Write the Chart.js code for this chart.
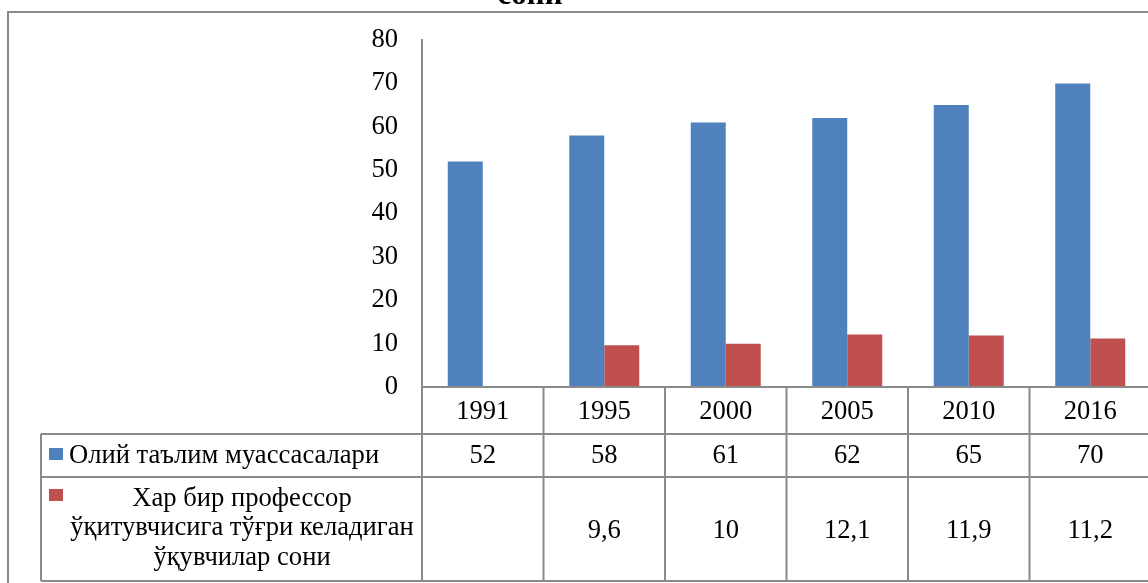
<!DOCTYPE html>
<html>
<head>
<meta charset="utf-8">
<script src="https://cdn.jsdelivr.net/npm/chart.js@4.4.1/dist/chart.umd.min.js"></script>
<style>
  html, body { margin: 0; padding: 0; background: #fff; overflow: hidden; }
  #wrap { position: absolute; left: 0; top: 0; width: 1160px; height: 583px; }
</style>
</head>
<body>
<div id="wrap"><canvas id="chart" width="1160" height="583"></canvas></div>
<script>
// ---- chart data ----
const years = ["1991", "1995", "2000", "2005", "2010", "2016"];
const institutions = [52, 58, 61, 62, 65, 70];
const studentsPerTeacher = [null, 9.6, 10, 12.1, 11.9, 11.2];
const yTicks = [0, 10, 20, 30, 40, 50, 60, 70, 80];

const seriesNames = [
  ["Олий таълим муассасалари"],
  ["Хар бир профессор", "ўқитувчисига тўғри келадиган", "ўқувчилар сони"],
];
const titleText = "сони";

const BLUE = "#4F81BD";
const RED = "#C0504D";
const LINE = "#8a8a8a";
const FONT = "Liberation Serif";
const FS = 26.6;

const fmt = (v) => (v == null ? "" : String(v).replace(".", ","));

// frame + title + data table drawn under/over the chart
const tablePlugin = {
  id: "dataTable",
  beforeDraw(chart) {
    const ctx = chart.ctx;
    ctx.save();
    ctx.strokeStyle = LINE;
    ctx.lineWidth = 2;
    ctx.beginPath();
    ctx.moveTo(8, 600); ctx.lineTo(8, 12); ctx.lineTo(1200, 12);
    ctx.stroke();

    ctx.fillStyle = "#000";
    ctx.font = "bold 31px " + FONT;
    ctx.textAlign = "center";
    ctx.textBaseline = "alphabetic";
    ctx.fillText(titleText, 530, 4);
    ctx.restore();
  },
  afterDraw(chart) {
    const ctx = chart.ctx;
    const area = chart.chartArea;
    const xs = chart.scales.x;
    const n = years.length;
    const cw = (area.right - area.left) / n;
    const legendLeft = 41;
    const rows = [area.bottom, 434, 477, 581];

    ctx.save();
    ctx.strokeStyle = LINE;
    ctx.lineWidth = 2;
    ctx.beginPath();
    // horizontal lines
    ctx.moveTo(area.left, rows[0]); ctx.lineTo(area.right + 20, rows[0]);
    for (let r = 1; r < rows.length; r++) {
      ctx.moveTo(legendLeft, rows[r]); ctx.lineTo(area.right + 20, rows[r]);
    }
    // vertical lines
    ctx.moveTo(legendLeft, rows[1]); ctx.lineTo(legendLeft, rows[3]);
    for (let i = 0; i <= n; i++) {
      const x = area.left + i * cw;
      ctx.moveTo(x, rows[0]); ctx.lineTo(x, rows[3]);
    }
    ctx.stroke();

    ctx.fillStyle = "#000";
    ctx.font = FS + "px " + FONT;
    ctx.textAlign = "center";
    ctx.textBaseline = "middle";
    years.forEach((y, i) => {
      const cx = xs.getPixelForValue(i);
      ctx.fillText(y, cx, (rows[0] + rows[1]) / 2 + 2);
      ctx.fillText(fmt(institutions[i]), cx, (rows[1] + rows[2]) / 2 + 1);
      ctx.fillText(fmt(studentsPerTeacher[i]), cx, 531);
    });

    // legend keys
    ctx.fillStyle = BLUE;
    ctx.fillRect(49, 448, 14, 12);
    ctx.fillStyle = RED;
    ctx.fillRect(49, 489, 14, 12);

    ctx.fillStyle = "#000";
    ctx.textAlign = "left";
    ctx.fillText(seriesNames[0][0], 69, 456);
    ctx.textAlign = "center";
    seriesNames[1].forEach((line, k) => {
      ctx.fillText(line, 242, 499 + k * 29.5);
    });
    ctx.restore();
  },
};

new Chart(document.getElementById("chart"), {
  type: "bar",
  data: {
    labels: years,
    datasets: [
      { label: seriesNames[0].join(" "), data: institutions, backgroundColor: BLUE },
      { label: seriesNames[1].join(" "), data: studentsPerTeacher, backgroundColor: RED },
    ],
  },
  options: {
    responsive: false,
    animation: false,
    layout: { padding: { left: 0, top: 40, right: 9, bottom: 583 - 387 } },
    datasets: { bar: { categoryPercentage: 0.576, barPercentage: 1 } },
    plugins: { legend: { display: false }, tooltip: { enabled: false }, title: { display: false } },
    scales: {
      x: { display: false, offset: true },
      y: {
        min: 0,
        max: 80,
        afterBuildTicks: (s) => { s.ticks = yTicks.map((v) => ({ value: v })); },
        afterFit: (s) => { s.width = 422; },
        grid: { display: false, drawTicks: false },
        border: { display: true, color: LINE, width: 2 },
        ticks: { color: "#000", padding: 24, font: { family: FONT, size: FS } },
      },
    },
  },
  plugins: [tablePlugin],
});
</script>
</body>
</html>
